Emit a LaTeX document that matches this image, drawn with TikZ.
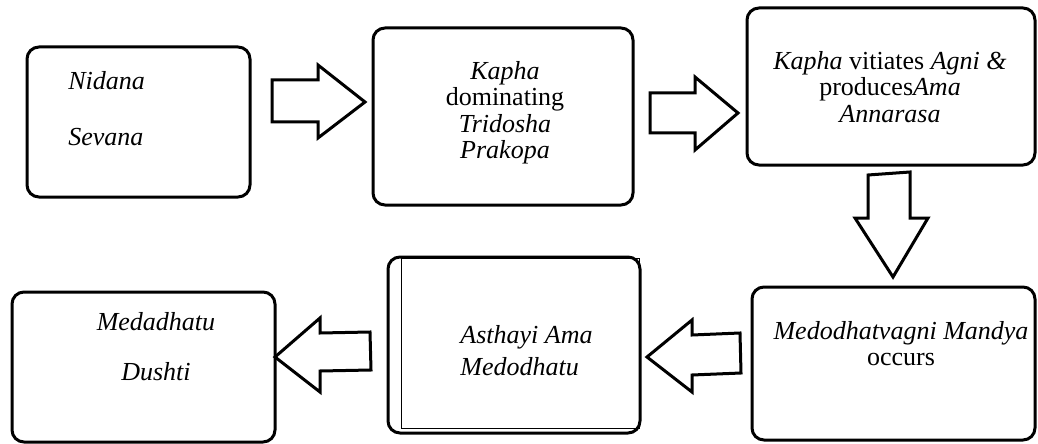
\documentclass[tikz,border=0pt]{standalone}
\usepackage{fontspec}
\setmainfont{Liberation Serif}
\usetikzlibrary{positioning,calc}

\begin{document}
\begin{tikzpicture}[
    x=0.5pt, y=-0.5pt,
    box/.style={draw, line width=1.5pt, rounded corners=6pt, inner sep=0pt},
    txt/.style={font=\fontsize{13}{13.25}\selectfont, align=center, inner sep=0pt},
    blk/.style={draw, line width=1.5pt, line join=miter},
  ]
  \useasboundingbox (0,0) rectangle (1038,444);

  % Top row
  \node[box, minimum width=111.5pt, minimum height=75pt] (nidana) at (138.5,122) {};
  \node[txt, align=left, anchor=west] (nidanatxt) at (68,109)
    {\textit{Nidana}\\[14.75pt]\textit{Sevana}};

  \node[box, minimum width=130pt, minimum height=88.5pt] (kapha) at (503,116.5) {};
  \node[txt] (kaphatxt) at (505,112.5)
    {\textit{Kapha}\\dominating\\\textit{Tridosha}\\\textit{Prakopa}};

  \node[box, minimum width=144pt, minimum height=78.5pt] (agni) at (891,86.5) {};
  \node[txt] (agnitxt) at (890,87)
    {\textit{Kapha} vitiates \textit{Agni \&}\\produces\textit{Ama}\\\textit{Annarasa}};

  % Bottom row
  \node[box, minimum width=141.5pt, minimum height=76.5pt] (mandya) at (893.5,363.5) {};
  \node[txt] (mandyatxt) at (901,343.5)
    {\textit{Medodhatvagni Mandya}\\occurs};

  \node[box, minimum width=126pt, minimum height=88pt] (asthayi) at (514,345) {};
  \node[draw, line width=0.5pt, inner sep=0pt, minimum width=119pt,
        minimum height=84.75pt] (asthayifront) at (520,343.25) {};
  \node[txt, align=left, anchor=west] (asthayitxt) at (460,351)
    {\textit{Asthayi Ama}\\[2.75pt]\textit{Medodhatu}};

  \node[box, minimum width=131.5pt, minimum height=75pt] (dushti) at (143.5,367) {};
  \node[txt] (dushtitxt) at (156,347)
    {\textit{Medadhatu}\\[11.75pt]\textit{Dushti}};

  % Block arrows
  \draw[blk] (272,80) -- (318,80) -- (318,65) -- (365,102)
    -- (318,138) -- (318,122) -- (272,122) -- cycle;
  \draw[blk] (650,93) -- (695,93) -- (695,77) -- (738,113)
    -- (695,150) -- (695,133) -- (650,133) -- cycle;
  \draw[blk] (868,175) -- (910,172) -- (910,218) -- (928,218)
    -- (893,277) -- (855,218) -- (868,218) -- cycle;
  \draw[blk] (740,333) -- (692,335) -- (692,320) -- (647,357)
    -- (692,392) -- (692,375) -- (741,373) -- cycle;
  \draw[blk] (370,332) -- (320,333) -- (320,318) -- (275,357)
    -- (320,392) -- (320,371) -- (371,370) -- cycle;

\end{tikzpicture}
\end{document}
